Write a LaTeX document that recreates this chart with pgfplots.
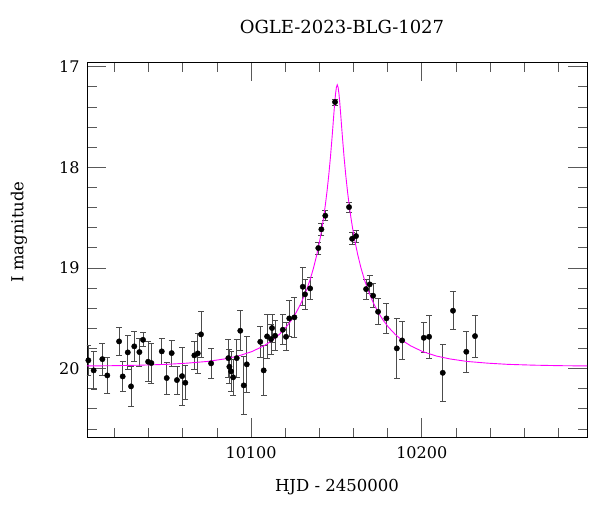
\documentclass[border=0pt]{standalone}
\usepackage{fontspec}
\setmainfont{DejaVu Serif}
\usepackage{pgfplots}
\pgfplotsset{compat=1.18}

% photometry: HJD-2450000, I mag, error
\pgfplotstableread{
t I e
10004.7 19.918 0.15
10007.8 20.018 0.19
10012.9 19.906 0.16
10015.8 20.068 0.18
10022.7 19.730 0.14
10024.8 20.078 0.15
10027.8 19.839 0.17
10029.7 20.177 0.20
10031.6 19.779 0.15
10034.6 19.836 0.14
10036.7 19.714 0.07
10039.7 19.932 0.20
10041.6 19.945 0.20
10047.7 19.829 0.13
10050.6 20.094 0.16
10053.5 19.846 0.13
10056.6 20.114 0.14
10059.6 20.075 0.29
10061.5 20.141 0.17
10066.8 19.869 0.14
10068.8 19.849 0.20
10070.7 19.660 0.23
10076.6 19.948 0.15
10086.7 19.896 0.19
10087.3 19.982 0.17
10088.3 20.028 0.20
10089.5 20.087 0.18
10091.6 19.896 0.19
10093.7 19.624 0.20
10095.7 20.167 0.29
10097.5 19.958 0.28
10105.4 19.734 0.15
10107.4 20.018 0.25
10109.4 19.680 0.22
10111.7 19.707 0.15
10112.3 19.597 0.14
10114.1 19.674 0.15
10118.6 19.614 0.15
10120.5 19.684 0.14
10122.4 19.501 0.18
10125.4 19.491 0.20
10130.3 19.187 0.19
10131.6 19.262 0.15
10134.6 19.203 0.11
10139.4 18.802 0.06
10141.2 18.616 0.06
10143.5 18.481 0.05
10149.2 17.351 0.03
10157.4 18.395 0.05
10159.2 18.710 0.06
10161.5 18.683 0.06
10167.4 19.210 0.10
10169.5 19.163 0.09
10171.5 19.276 0.12
10174.4 19.435 0.13
10179.3 19.501 0.15
10185.4 19.799 0.30
10188.5 19.720 0.19
10201.2 19.694 0.15
10204.3 19.684 0.21
10212.3 20.042 0.28
10218.3 19.425 0.19
10226.1 19.833 0.20
10231.2 19.677 0.21
}\photdata

% model light curve
\pgfplotstableread{
t I
10002.5 19.974
10020.5 19.971
10035.5 19.966
10050.5 19.958
10062.5 19.946
10074.5 19.929
10084.5 19.904
10092.5 19.875
10100.5 19.831
10107.5 19.774
10112.5 19.719
10116.5 19.661
10120.5 19.589
10123.5 19.522
10126.5 19.441
10129.5 19.342
10132.5 19.219
10134.5 19.121
10136.5 19.006
10138.5 18.869
10140.5 18.704
10141.5 18.607
10142.5 18.499
10143.5 18.377
10144.5 18.239
10145.5 18.081
10146.5 17.900
10147.5 17.694
10148.5 17.470
10149.0 17.362
10149.5 17.269
10150.0 17.204
10150.5 17.180
10151.0 17.204
10151.5 17.269
10152.0 17.362
10152.5 17.470
10153.5 17.694
10154.5 17.900
10155.5 18.081
10156.5 18.239
10157.5 18.377
10158.5 18.499
10159.5 18.607
10160.5 18.704
10162.5 18.869
10164.5 19.006
10166.5 19.121
10168.5 19.219
10171.5 19.342
10174.5 19.441
10177.5 19.522
10180.5 19.589
10184.5 19.661
10188.5 19.719
10193.5 19.774
10200.5 19.831
10208.5 19.875
10216.5 19.904
10226.5 19.929
10238.5 19.946
10250.5 19.958
10265.5 19.966
10280.5 19.971
10298.5 19.974
}\modeldata

\begin{document}
\begin{tikzpicture}
\begin{axis}[
    name=ax,
    scale only axis,
    width=500bp, height=375bp,
    xmin=10003.9, xmax=10296.8,
    ymin=16.953, ymax=20.68,
    y dir=reverse,
    xtick distance=100, minor x tick num=4,
    ytick distance=1, minor y tick num=4,
    scaled x ticks=false,
    xticklabel={\pgfmathprintnumber[fixed, precision=0, 1000 sep={}]{\tick}},
    tick align=inside,
    major tick length=19bp, minor tick length=9.5bp,
    every tick/.style={draw=black!65, line width=0.8bp},
    axis line style={line width=0.9bp},
    /pgf/number format/assume math mode=true,
    /pgf/number format/1000 sep={},
    ticklabel style={font=\fontsize{16bp}{19bp}\selectfont},
    yticklabel style={xshift=-4bp},
    xticklabel style={yshift=-6bp},
    title={OGLE-2023-BLG-1027},
    title style={font=\fontsize{18bp}{21bp}\selectfont, at={(axis description cs:0.51,1)}, anchor=base, yshift=23bp},
    xlabel={HJD - 2450000},
    xlabel style={font=\fontsize{16.5bp}{19bp}\selectfont, at={(axis description cs:0.5,-0.144)}, anchor=base},
    ylabel={I magnitude},
    ylabel style={font=\fontsize{16.5bp}{19bp}\selectfont, at={(axis description cs:-0.127,0.547)}, anchor=base, rotate=0},
    clip=true,
]
\addplot[only marks, mark=*, mark size=2.7bp, mark options={fill=black, draw=black},
    error bars/.cd, y dir=both, y explicit,
    error bar style={line width=0.8bp, draw=black!70},
    error mark options={rotate=90, line width=0.8bp, draw=black!70, mark size=3bp}]
    table[x=t, y=I, y error=e] {\photdata};
\addplot[color={rgb,255:red,255;green,0;blue,255}, line width=0.9bp] table[x=t, y=I] {\modeldata};
\end{axis}
\path[use as bounding box] ([xshift=-87bp,yshift=-75bp]ax.south west) rectangle ([xshift=13bp,yshift=62bp]ax.north east);
\end{tikzpicture}
\end{document}
